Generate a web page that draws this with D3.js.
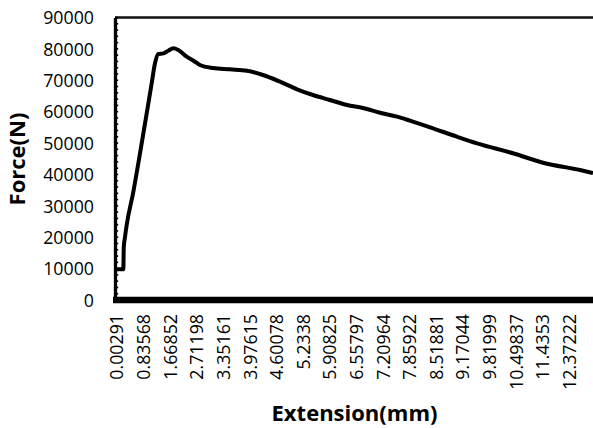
<!DOCTYPE html>
<html>
<head>
<meta charset="utf-8">
<script src="https://cdn.jsdelivr.net/npm/d3@7"></script>
<style>
  body { margin: 0; background: #fff; }
  svg { display: block; }
  text { font-family: "Open Sans", "Noto Sans", sans-serif; fill: #000; }
</style>
</head>
<body>
<svg id="chart"></svg>
<script>
(function() {

// category labels shown on the x axis (every Nth sample)
const extTicks = [0.00291, 0.83568, 1.66852, 2.71198, 3.35161, 3.97615, 4.60078, 5.2338,
    5.90825, 6.55797, 7.20964, 7.85922, 8.51881, 9.17044, 9.81999, 10.49837, 11.4353, 12.37222];

// readings
const extension = [0.00291, 0.216, 0.231, 0.269, 0.322, 0.528, 0.738, 0.948, 1.104, 1.207,
    1.311, 1.467, 1.623, 1.808, 2.004, 2.333, 2.659, 2.799, 3.112, 3.516, 3.915, 4.290,
    4.691, 5.095, 5.491, 5.921, 6.336, 6.727, 7.144, 7.559, 7.876, 8.372, 9.034, 9.523,
    10.427, 11.456, 12.758, 13.216];
const force = [9800, 9800, 16900, 20100, 23900, 34400, 46700, 59480, 69040, 75410,
    78370, 78590, 79420, 80190, 79650, 77510, 75920, 74870, 73910, 73500, 73050, 71680,
    69550, 67130, 65310, 63720, 62120, 61170, 59670, 58400, 57120, 55020, 52020, 49920,
    46740, 43740, 41420, 40460];

const yTicks = [0, 10000, 20000, 30000, 40000, 50000, 60000, 70000, 80000, 90000];
const yMinorStep = 2000;

const width = 593, height = 428;
const plot = { left: 115, top: 17.5, bottom: 300, right: 620 };
const catStart = 116.5, catStep = 26.62;

const svg = d3.select("#chart")
    .attr("width", width)
    .attr("height", height);

const x = d3.scaleLinear()
    .domain(extTicks)
    .range(extTicks.map((d, i) => catStart + i * catStep));

const y = d3.scaleLinear()
    .domain([0, 90000])
    .range([plot.bottom, plot.top]);

// top border of the plot area
svg.append("line")
    .attr("x1", plot.left).attr("x2", plot.right)
    .attr("y1", plot.top).attr("y2", plot.top)
    .attr("stroke", "#111")
    .attr("stroke-width", 2.5);

// minor ticks (inside)
const minor = d3.range(0, 90001, yMinorStep);
svg.append("g")
    .selectAll("line")
    .data(minor)
    .enter().append("line")
    .attr("x1", plot.left)
    .attr("x2", plot.left + 3.2)
    .attr("y1", d => y(d))
    .attr("y2", d => y(d))
    .attr("stroke", "#000")
    .attr("stroke-width", 1.6);

// Y-axis
const yAxis = svg.append("g")
    .attr("transform", `translate(${plot.left},0)`)
    .call(d3.axisLeft(y).tickValues(yTicks).tickSize(0).tickPadding(21).tickFormat(d => String(d)));
yAxis.select(".domain")
    .attr("stroke", "#000")
    .attr("stroke-width", 3.3);
yAxis.selectAll("text")
    .attr("font-size", "17.8px")
    .attr("font-family", "Open Sans")
    .attr("dy", "0.35em");

// X-axis
const xAxis = svg.append("g")
    .attr("transform", `translate(0,${plot.bottom})`)
    .call(d3.axisBottom(x).tickValues(extTicks).tickSize(0).tickFormat(d => String(d)));
xAxis.select(".domain")
    .attr("d", `M${plot.left - 2},0H${plot.right}`)
    .attr("stroke", "#000")
    .attr("stroke-width", 6.5);
xAxis.selectAll("text")
    .attr("font-size", "17.8px")
    .attr("font-family", "Open Sans")
    .attr("transform", "rotate(-90)")
    .attr("text-anchor", "end")
    .attr("x", -14)
    .attr("y", 0)
    .attr("dy", "0.36em");

// the curve
const line = d3.line()
    .x((d, i) => x(extension[i]))
    .y(d => y(d))
    .curve(d3.curveMonotoneX);

svg.append("path")
    .datum(force)
    .attr("d", line)
    .attr("fill", "none")
    .attr("stroke", "#000")
    .attr("stroke-width", 4)
    .attr("stroke-linejoin", "round");

// axis titles
svg.append("text")
    .attr("x", 354.5)
    .attr("y", 421)
    .attr("text-anchor", "middle")
    .attr("font-size", "22px")
    .attr("font-weight", "bold")
    .text("Extension(mm)");

svg.append("text")
    .attr("transform", "translate(24.5,159) rotate(-90)")
    .attr("text-anchor", "middle")
    .attr("font-size", "22px")
    .attr("font-weight", "bold")
    .text("Force(N)");

})();
</script>
</body>
</html>
